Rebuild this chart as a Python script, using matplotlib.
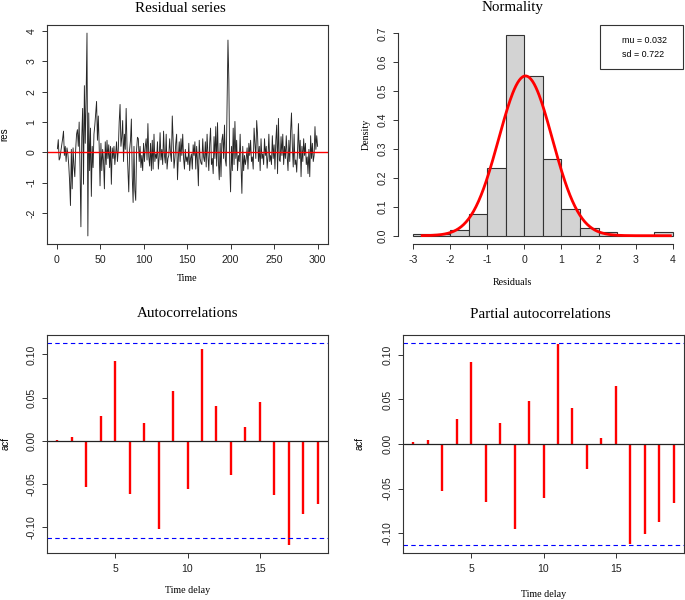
import numpy as np
import matplotlib
matplotlib.use('Agg')
import matplotlib.pyplot as plt
from matplotlib.patches import Rectangle

# residuals (t = 1..300)
res = np.array([
    0.12, 0.42, -0.25, -0.18, 0.05, 0.25, 0.45, 0.70, -0.10, 0.20,
    -0.30, 0.15, -0.05, -0.40, -0.95, -1.75, 0.10, -1.20, 0.15, -0.45,
    -0.80, 0.10, 0.60, 0.75, 0.20, 1.00, -0.50, -2.45, 0.50, 1.45,
    -1.05, 2.20, 0.30, 1.85, 3.93, -2.75, 1.30, -0.60, 0.80, -1.45,
    0.20, -0.50, 0.60, 0.90, 1.30, 1.68, 0.40, 1.20, 0.20, -1.10,
    0.30, -0.60, 0.10, -0.30, -1.20, 0.35, -0.40, 0.40, -0.20, 0.25,
    -0.50, 0.20, -1.05, 0.15, -0.20, 0.20, -0.40, 0.00, 0.35, -0.30,
    0.10, 1.00, 1.58, 0.20, 0.50, 1.05, -0.30, 0.60, 0.10, 1.45,
    0.20, -0.60, -1.30, 0.10, 0.40, 1.10, -0.80, -1.65, 0.20, -1.25,
    -1.58, 0.10, 0.50, 0.45, -0.30, 0.20, -0.50, -0.10, -0.60, 0.30,
    -0.30, 0.20, 0.45, -0.25, 0.95, -0.15, -0.45, 0.30, -0.60, 0.40,
    -0.55, 0.60, -0.30, -0.05, -0.20, 0.35, -0.55, -0.15, 0.65, -0.25,
    0.10, -0.40, 0.70, -0.10, -0.35, 0.60, -0.55, -0.20, -0.10, 0.45,
    -0.05, -0.30, 1.20, 0.40, -0.52, -0.20, 0.30, 0.60, -0.90, -0.15,
    0.35, -0.30, 0.45, -0.10, 0.60, -0.20, -0.55, 0.10, -0.30, -0.15,
    -0.40, 0.30, -0.60, -0.20, -0.05, -0.55, 0.25, -0.10, 0.35, -0.55,
    0.20, -0.30, -1.10, 0.40, -0.20, -0.35, -0.40, 0.45, -0.15, -0.30,
    0.35, -0.48, 0.60, -0.10, -0.60, 0.30, 0.80, -0.40, -0.20, -0.70,
    0.52, -0.20, 0.85, -0.45, 0.98, -0.30, -0.90, 0.30, -0.80, 0.40,
    0.60, -0.20, 0.90, -0.25, -0.45, 1.60, 3.70, 2.40, -0.40, -1.30,
    0.20, -0.60, 0.80, -0.40, 1.02, -0.20, 0.40, -0.60, -0.10, -0.30,
    0.60, -0.45, -1.35, 0.20, -0.60, -0.10, -0.40, -0.20, 0.15, -0.55,
    0.30, -0.10, 0.40, -0.30, -0.15, -0.55, 0.80, 0.30, -0.20, 1.05,
    0.60, -0.30, 0.20, -0.60, 0.45, -0.20, -0.05, -0.40, 0.45, -0.10,
    0.20, -0.52, -0.15, 0.60, -0.30, -0.10, -0.40, 0.55, -0.20, 0.25,
    -0.55, 0.40, 0.90, -0.70, 1.12, -0.25, -0.30, 0.52, -0.10, 0.60,
    -0.40, 0.20, -0.20, 0.55, -0.10, -0.60, 0.40, -0.30, 0.70, 1.30,
    0.20, -0.48, 0.60, -0.40, -0.25, -0.65, 0.10, 0.95, -0.20, 0.40,
    -0.80, 0.20, -0.30, 0.45, -0.10, 0.30, -0.40, -0.15, -0.70, 0.10,
    -0.80, 0.55, -0.20, 0.30, -0.30, -0.10, 0.85, 0.10, 0.55, 0.20,
])
time = np.arange(1, len(res) + 1)

lags = np.arange(1, 20)
acf_vals = [0.001, 0.004, -0.054, 0.028, 0.092, -0.062, 0.020, -0.103, 0.058, -0.056,
            0.106, 0.040, -0.040, 0.016, 0.045, -0.063, -0.121, -0.085, -0.074]
pacf_vals = [0.002, 0.004, -0.053, 0.028, 0.092, -0.065, 0.023, -0.095, 0.048, -0.060,
             0.112, 0.040, -0.028, 0.007, 0.065, -0.112, -0.101, -0.088, -0.066]

mu = 0.032
sd = 0.722
breaks = np.arange(-3, 4.01, 0.5)

SERIF = 'Liberation Serif'
SANS = ['Liberation Sans Narrow', 'Liberation Sans']
plt.rcParams['font.family'] = SANS
plt.rcParams['axes.unicode_minus'] = False
plt.rcParams['axes.linewidth'] = 0.8
plt.rcParams['axes.edgecolor'] = '#333333'

TICK = dict(direction='out', length=3.6, width=0.7, labelsize=7.6, pad=4,
            color='#333333', labelcolor='#222222')


def box(l, r, t, b):
    return [l / 685, (600 - b) / 600, (r - l) / 685, (b - t) / 600]


def r_yticks(ax, ticks, fmt):
    ax.set_yticks(ticks)
    ax.set_yticklabels([fmt.format(v) for v in ticks], rotation=90, va='center')


fig = plt.figure(figsize=(6.85, 6.0), dpi=100)

# --- residual series
ax1 = fig.add_axes(box(47, 328, 25, 244))
ax1.plot(time, res, color='#262626', lw=0.65)
ax1.axhline(0, color='red', lw=1.0)
ax1.margins(0.04)
ax1.set_xticks(np.arange(0, 301, 50))
r_yticks(ax1, np.arange(-2, 5), '{:d}')
ax1.tick_params(**TICK)
ax1.set_title('Residual series', family=SERIF, fontsize=10.8, pad=9.5, x=0.473)
ax1.set_xlabel('Time', family=SERIF, fontsize=7.2)
ax1.set_ylabel('res', fontsize=7)
ax1.xaxis.set_label_coords(0.5, -0.135)
ax1.yaxis.set_label_coords(-0.135, 0.5)

# --- histogram + normal curve
ax2 = fig.add_axes(box(398, 683, 25, 244))
ax2.hist(res, bins=breaks, density=True, facecolor='#d3d3d3', edgecolor='#333333', lw=0.8)
xs = np.linspace(res.min(), res.max(), 300)
ax2.plot(xs, np.exp(-0.5 * ((xs - mu) / sd) ** 2) / (sd * np.sqrt(2 * np.pi)), color='red', lw=2.0)
ax2.set_xlim(-3.40, 4.27)
ax2.set_ylim(-0.0287, 0.7287)
ax2.set_xticks(np.arange(-3, 5))
r_yticks(ax2, np.arange(0, 0.71, 0.1), '{:.1f}')
ax2.spines['top'].set_visible(False)
ax2.spines['right'].set_visible(False)
ax2.spines['bottom'].set_bounds(-3, 4)
ax2.spines['left'].set_bounds(0, 0.7)
ax2.tick_params(**TICK)
ax2.set_title('Normality', family=SERIF, fontsize=10.8, pad=10, x=0.40)
ax2.set_xlabel('Residuals', family=SERIF, fontsize=7.2)
ax2.set_ylabel('Density', family=SERIF, fontsize=7.2)
ax2.xaxis.set_label_coords(0.40, -0.155)
ax2.yaxis.set_label_coords(-0.095, 0.5)
ax2.add_patch(Rectangle((0.709, 0.80), 0.291, 0.20, transform=ax2.transAxes,
                        fill=False, edgecolor='#333333', lw=0.8, clip_on=False))
ax2.text(0.785, 0.928, 'mu = 0.032', transform=ax2.transAxes, fontsize=6.4, va='center')
ax2.text(0.785, 0.866, 'sd = 0.722', transform=ax2.transAxes, fontsize=6.4, va='center')

# --- acf / pacf
ci = 1.96 / np.sqrt(len(res))


def corr_panel(ax, vals, title, title_pad, title_x, xlab_y, ylab_x):
    ax.vlines(lags, 0, vals, color='red', lw=1.7)
    ax.axhline(0, color='#222222', lw=0.9)
    ax.axhline(ci, color='blue', lw=0.8, ls=(0, (4, 3)))
    ax.axhline(-ci, color='blue', lw=0.8, ls=(0, (4, 3)))
    lo = min(min(vals), -ci)
    hi = max(max(vals), ci)
    pad = 0.04 * (hi - lo)
    ax.set_ylim(lo - pad, hi + pad)
    ax.set_xlim(lags[0] - 0.04 * (lags[-1] - lags[0]), lags[-1] + 0.04 * (lags[-1] - lags[0]))
    ax.set_xticks([5, 10, 15])
    r_yticks(ax, [-0.10, -0.05, 0.00, 0.05, 0.10], '{:.2f}')
    ax.tick_params(**TICK)
    ax.set_title(title, family=SERIF, fontsize=10.8, pad=title_pad, x=title_x)
    ax.set_xlabel('Time delay', family=SERIF, fontsize=7.2)
    ax.set_ylabel('acf', fontsize=7)
    ax.xaxis.set_label_coords(0.5, xlab_y)
    ax.yaxis.set_label_coords(ylab_x, 0.5)


ax3 = fig.add_axes(box(47, 328, 335, 553))
corr_panel(ax3, acf_vals, 'Autocorrelations', 13, 0.5, -0.15, -0.13)
ax4 = fig.add_axes(box(403, 684, 335, 553))
corr_panel(ax4, pacf_vals, 'Partial autocorrelations', 12, 0.49, -0.17, -0.138)

fig.savefig('out.png', dpi=100)
